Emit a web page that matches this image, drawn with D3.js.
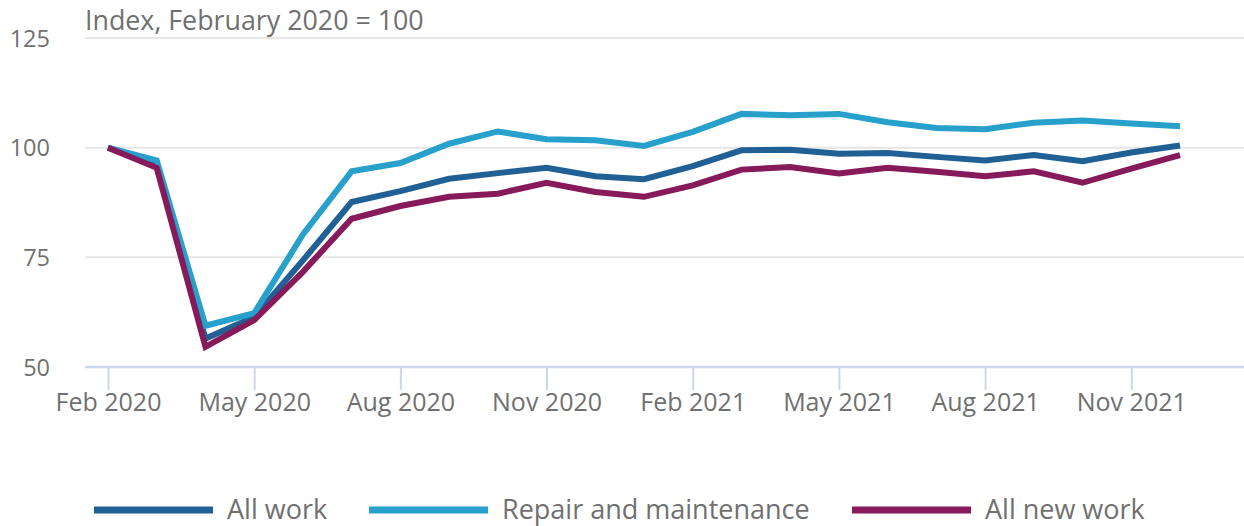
<!DOCTYPE html>
<html><head><meta charset="utf-8">
<script src="https://cdn.jsdelivr.net/npm/d3@7"></script>
<style>
body{margin:0;background:#fff;}
svg{display:block;font-family:"Open Sans",sans-serif;}
</style></head>
<body><svg id="c" width="1244" height="526"></svg>
<script>
const months = ["Feb 2020","Mar 2020","Apr 2020","May 2020","Jun 2020","Jul 2020","Aug 2020","Sep 2020","Oct 2020","Nov 2020","Dec 2020","Jan 2021","Feb 2021","Mar 2021","Apr 2021","May 2021","Jun 2021","Jul 2021","Aug 2021","Sep 2021","Oct 2021","Nov 2021","Dec 2021"];
const allWork = [100, 96.0, 56.5, 61.4, 74.3, 87.6, 90.1, 92.9, 94.2, 95.4, 93.5, 92.8, 95.8, 99.4, 99.5, 98.6, 98.8, 97.9, 97.1, 98.3, 96.9, 98.9, 100.5];
const repair = [100, 97.1, 59.4, 62.3, 80.2, 94.6, 96.5, 100.9, 103.7, 101.9, 101.7, 100.4, 103.6, 107.7, 107.4, 107.7, 105.8, 104.5, 104.2, 105.7, 106.2, 105.5, 104.9];
const newWork = [100, 95.4, 54.6, 60.7, 71.7, 83.8, 86.7, 88.8, 89.5, 92.0, 89.9, 88.8, 91.4, 95.0, 95.6, 94.1, 95.4, 94.5, 93.5, 94.6, 92.0, 95.2, 98.3];
const seriesNames = ["All work","Repair and maintenance","All new work"];
const yTicks = [50, 75, 100, 125];
const xTickLabels = ["Feb 2020","May 2020","Aug 2020","Nov 2020","Feb 2021","May 2021","Aug 2021","Nov 2021"];
const yTitle = "Index, February 2020 = 100";

const colors = ["#206095","#27a0cc","#871a5b"];
const series = [allWork, repair, newWork];
const svg = d3.select("#c");
const x = d3.scalePoint().domain(months).range([108, 1180]);
const y = d3.scaleLinear().domain([50, 125]).range([367, 38]);
const textCol = "#707070";

// gridlines
svg.append("g").selectAll("line").data(yTicks.filter(d=>d>50)).join("line")
  .attr("x1", 85).attr("x2", 1244).attr("y1", d=>y(d)).attr("y2", d=>y(d))
  .attr("stroke", "#e6e6e6").attr("stroke-width", 2);

// y labels
svg.append("g").selectAll("text").data(yTicks).join("text")
  .attr("x", 50).attr("y", d=>y(d)+8.5).attr("text-anchor","end")
  .attr("font-size", 23.5).attr("fill", textCol).text(d=>d);

// title
svg.append("text").attr("x", 85).attr("y", 30).attr("font-size", 26.8)
  .attr("fill", textCol).text(yTitle);

// x axis
const xAxis = d3.axisBottom(x).tickValues(xTickLabels).tickSize(23).tickPadding(0);
const gx = svg.append("g").attr("transform", "translate(0,367)").call(xAxis);
gx.select(".domain").remove();
gx.selectAll(".tick line").attr("stroke", "#ccd6eb").attr("stroke-width", 2);
gx.selectAll(".tick text").attr("y", 44).attr("dy", 0).attr("font-size", 25)
  .attr("font-family", "'Open Sans',sans-serif").attr("fill", textCol);
svg.append("line").attr("x1", 85).attr("x2", 1244).attr("y1", 367).attr("y2", 367)
  .attr("stroke", "#ccd6eb").attr("stroke-width", 2.5);

// lines
const line = d3.line().x((d,i)=>x(months[i])).y(d=>y(d));
svg.append("g").selectAll("path").data(series).join("path")
  .attr("d", d=>line(d)).attr("fill","none")
  .attr("stroke", (d,i)=>colors[i]).attr("stroke-width", 6)
  .attr("stroke-linejoin","miter").attr("stroke-linecap","butt");

// legend
const legX = [94, 369, 852];
const leg = svg.append("g").selectAll("g").data(seriesNames).join("g")
  .attr("transform", (d,i)=>`translate(${legX[i]},510)`);
leg.append("line").attr("x1",0).attr("x2",119).attr("y1",0).attr("y2",0)
  .attr("stroke", (d,i)=>colors[i]).attr("stroke-width", 7);
leg.append("text").attr("x", 133).attr("y", 9).attr("font-size", 27)
  .attr("fill", textCol).text(d=>d);
</script></body></html>
